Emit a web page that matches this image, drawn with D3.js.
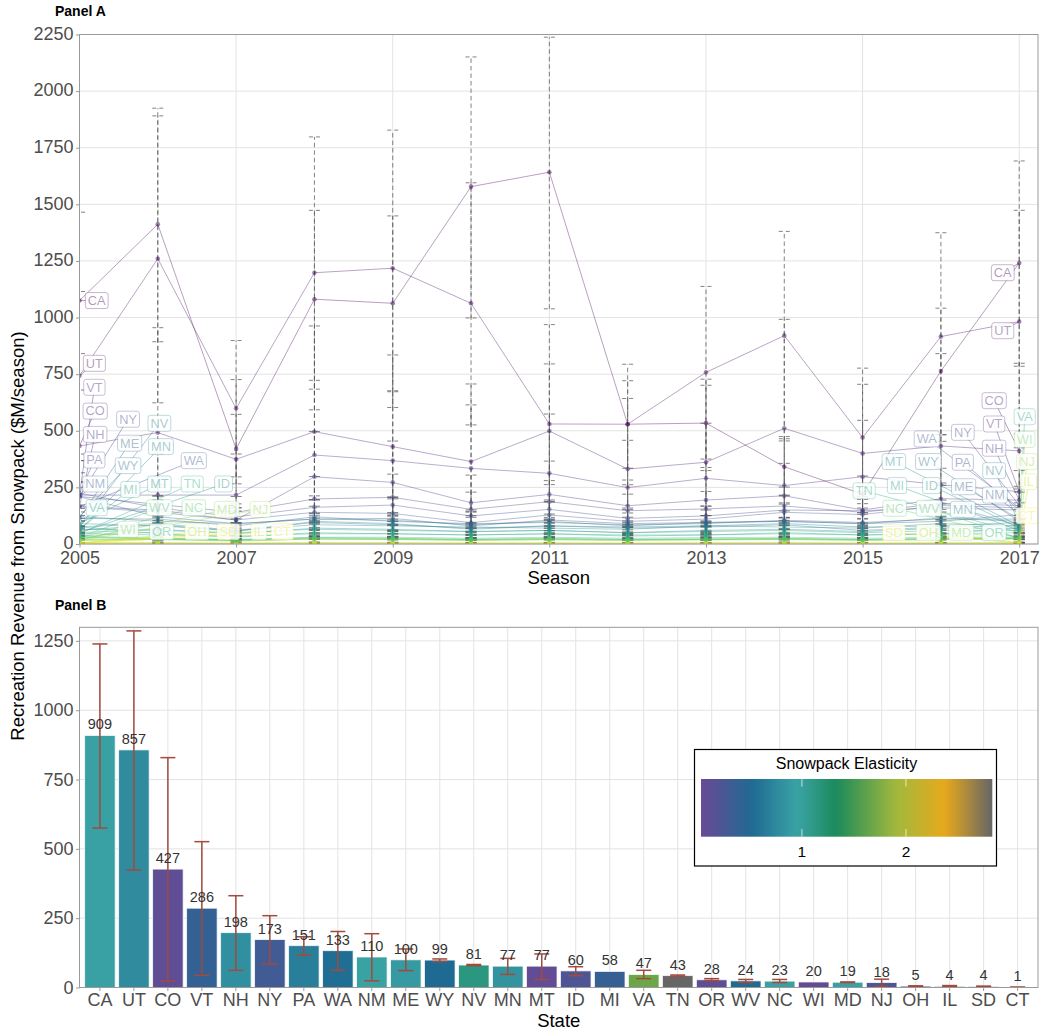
<!DOCTYPE html>
<html><head><meta charset="utf-8">
<script src="https://cdn.jsdelivr.net/npm/d3@7"></script>
<style>
body{margin:0;background:#fff}
svg{display:block}
text{font-family:"Liberation Sans",Arial,Helvetica,sans-serif}
</style>
</head><body>
<svg id="c" width="1040" height="1032"></svg>
<script>
// ---------------- DATA ----------------
const seasons = [2005,2006,2007,2008,2009,2010,2011,2012,2013,2014,2015,2016,2017];
const states = ["CA","UT","CO","VT","NH","NY","PA","WA","NM","ME","WY","NV","MN","MT","ID","MI","VA","TN","OR","WV","NC","WI","MD","NJ","OH","IL","SD","CT"];

// Panel A: revenue per season ($M), one array per state
const rev_CA = [1075,1412,420,1081,1063,1578,1642,529,534,341,220,764,1241];
const rev_UT = [743,1260,599,1198,1218,1063,530,529,758,920,470,916,982];
const rev_CO = [433,492,374,496,430,364,499,331,361,511,400,433,411];
const rev_VT = [216,216,216,393,368,334,312,249,290,258,297,262,231];
const rev_NH = [165,150,106,297,272,182,219,169,194,213,150,200,194];
const rev_NY = [210,175,140,199,206,153,187,147,155,168,140,180,170];
const rev_PA = [224,160,120,162,172,124,153,113,124,150,147,160,150];
const rev_WA = [165,140,106,140,135,94,128,100,110,140,130,170,160];
const rev_NM = [209,120,90,110,113,80,106,90,95,100,90,100,130];
const rev_ME = [113,110,80,120,100,90,95,85,90,105,95,110,110];
const rev_WY = [121,100,90,110,105,85,100,80,95,100,90,115,100];
const rev_NV = [76,90,60,95,85,70,80,75,80,90,75,80,95];
const rev_MN = [60,85,55,100,90,65,80,70,75,85,60,75,80];
const rev_MT = [90,80,60,85,80,75,70,65,80,75,70,90,80];
const rev_ID = [50,65,45,70,65,55,60,50,60,65,55,70,70];
const rev_MI = [65,60,50,65,60,55,60,50,55,60,50,60,60];
const rev_VA = [76,45,30,50,45,40,45,35,40,50,40,45,70];
const rev_TN = [47,40,35,45,45,40,45,40,40,45,40,45,50];
const rev_OR = [35,25,20,30,30,25,30,25,28,30,25,30,30];
const rev_WV = [30,25,18,28,25,20,25,20,22,25,20,25,25];
const rev_NC = [28,22,18,26,25,20,24,20,22,24,20,24,26];
const rev_WI = [20,22,15,22,20,18,20,18,20,22,18,20,25];
const rev_MD = [18,20,15,22,20,18,20,17,19,20,17,20,21];
const rev_NJ = [15,20,12,22,20,15,18,15,18,20,15,20,24];
const rev_OH = [5,6,3,6,6,4,5,4,5,6,4,5,6];
const rev_IL = [4,5,3,5,4,3,4,3,4,5,3,4,5];
const rev_SD = [4,4,3,5,4,4,4,3,4,5,3,4,5];
const rev_CT = [1,1,1,1,1,1,1,1,1,1,1,1,1];
const revenueSeries = [rev_CA,rev_UT,rev_CO,rev_VT,rev_NH,rev_NY,rev_PA,rev_WA,rev_NM,rev_ME,rev_WY,rev_NV,rev_MN,rev_MT,rev_ID,rev_MI,rev_VA,rev_TN,rev_OR,rev_WV,rev_NC,rev_WI,rev_MD,rev_NJ,rev_OH,rev_IL,rev_SD,rev_CT];

// Panel B: mean revenue, interval bounds, snowpack elasticity
const meanRevenue = [909,857,427,286,198,173,151,133,110,100,99,81,77,77,60,58,47,43,28,24,23,20,19,18,5,4,4,1];
const ciLow  = [575,424,23,44,62,85,116,62,24,61,93,79,47,29,43,null,32,41,25,18,18,null,18,4,4,3,3,1];
const ciHigh = [1239,1286,829,526,331,259,183,202,194,139,103,83,105,121,75,null,62,45,32,29,29,null,20,30,6,7,5,1];
const elasticity = [0.93,0.77,0.1,0.38,0.81,0.3,0.68,0.55,0.96,0.88,0.52,1.14,0.84,0.08,0.21,0.37,1.68,2.83,0.1,0.5,0.93,0.07,0.93,0.21,0.25,0.45,0.9,0.6];

// Ticks
const yTicksA = [0,250,500,750,1000,1250,1500,1750,2000,2250];
const xTicksA = [2005,2007,2009,2011,2013,2015,2017];
const yTicksB = [0,250,500,750,1000,1250];
const legendTicks = [1,2];
const elasticityStops = [0.03,0.52,0.95,1.33,1.91,2.37,2.83];
const elasticityColors = ["#6a4995","#1f6a93","#3aa3a5","#1c8a5c","#a2b93c","#e7a91c","#666666"];

// Label layout (ggrepel placement, in data coordinates [season, value])
const leftLabelLayout = {CA:[2005.22,1075],UT:[2005.19,798],VT:[2005.19,692],CO:[2005.2,587],NY:[2005.62,551],NH:[2005.2,484],NV:[2006.02,533],ME:[2005.64,445],MN:[2006.04,430],PA:[2005.19,371],WY:[2005.62,346],WA:[2006.46,368],NM:[2005.2,265],MI:[2005.65,241],MT:[2006.02,265],TN:[2006.44,265],ID:[2006.84,265],VA:[2005.22,160],WV:[2006.02,160],NC:[2006.46,160],MD:[2006.88,153],NJ:[2007.31,153],WI:[2005.62,65],OR:[2006.05,54],OH:[2006.5,54],SD:[2006.9,54],IL:[2007.29,54],CT:[2007.59,54]};
const rightLabelLayout = {CA:[2016.79,1198],UT:[2016.79,942],CO:[2016.68,633],VT:[2016.68,530],VA:[2017.07,562],WA:[2015.82,464],NY:[2016.28,493],NH:[2016.68,423],WI:[2017.07,462],MT:[2015.4,364],WY:[2015.84,364],PA:[2016.28,361],NV:[2016.68,324],NJ:[2017.1,364],TN:[2015.02,235],MI:[2015.44,258],ID:[2015.88,258],ME:[2016.29,253],NM:[2016.69,216],IL:[2017.12,275],NC:[2015.41,158],WV:[2015.85,158],MN:[2016.28,153],CT:[2017.1,125],SD:[2015.4,50],OH:[2015.84,50],MD:[2016.26,50],OR:[2016.68,50]};

// ---------------- DRAW ----------------
const svg = d3.select("#c");
const FONT = '"Liberation Sans",Arial,Helvetica,sans-serif';
const gridCol = "#e3e3e3", borderCol = "#9a9a9a", tickTxt = "#4d4d4d";
const stateColor = d3.scaleOrdinal().domain(states).range(states.map((s,i)=>d3.interpolateViridis(i/(states.length-1))));

// ---- Panel A ----
const A = {l:79.5, r:1038, t:34.5, b:544};
const xA = d3.scaleLinear().domain([2005, 2017.24]).range([A.l, A.r]);
const yA = d3.scaleLinear().domain([0, 2250]).range([A.b, A.t]);

svg.append("text").attr("x",55).attr("y",16).attr("font-size",14).attr("font-weight","bold").text("Panel A");

const gA = svg.append("g");
gA.selectAll(".gy").data(yTicksA).join("line").attr("x1",A.l).attr("x2",A.r)
  .attr("y1",d=>yA(d)).attr("y2",d=>yA(d)).attr("stroke",gridCol).attr("stroke-width",1);
gA.selectAll(".gx").data(xTicksA).join("line").attr("y1",A.t).attr("y2",A.b)
  .attr("x1",d=>xA(d)).attr("x2",d=>xA(d)).attr("stroke",gridCol).attr("stroke-width",1);

svg.append("clipPath").attr("id","clipA").append("rect").attr("x",A.l).attr("y",A.t).attr("width",A.r-A.l).attr("height",A.b-A.t);
const pA = svg.append("g").attr("clip-path","url(#clipA)");

// error bars (each season's estimate scaled by the state's relative interval)
const ebG = pA.append("g");
states.forEach((s,i)=>{
  if (ciLow[i]==null) return;
  const rl = ciLow[i]/meanRevenue[i], rh = ciHigh[i]/meanRevenue[i];
  revenueSeries[i].forEach((v,j)=>{
    const x = xA(seasons[j]), y1 = yA(v*rl), y2 = yA(v*rh);
    ebG.append("line").attr("x1",x).attr("x2",x).attr("y1",y1).attr("y2",y2)
      .attr("stroke","#555").attr("stroke-width",0.9).attr("stroke-dasharray","4.5,3").attr("opacity",0.8);
    [y1,y2].forEach(yy=>ebG.append("line").attr("x1",x-5.5).attr("x2",x+5.5).attr("y1",yy).attr("y2",yy)
      .attr("stroke","#555").attr("stroke-width",0.9).attr("stroke-dasharray","4,3").attr("opacity",0.8));
  });
});

// lines
const line = d3.line().x((d,j)=>xA(seasons[j])).y(d=>yA(d));
const order = states.map((s,i)=>i).reverse();
order.forEach(i=>{
  pA.append("path").attr("d",line(revenueSeries[i])).attr("fill","none")
    .attr("stroke",stateColor(states[i])).attr("stroke-width",0.9).attr("stroke-opacity",0.42);
});
order.forEach(i=>{
  pA.selectAll(null).data(revenueSeries[i]).join("circle")
    .attr("cx",(d,j)=>xA(seasons[j])).attr("cy",d=>yA(d)).attr("r",2.3)
    .attr("fill",stateColor(states[i])).attr("fill-opacity",0.5);
});

// labels
function drawLabels(layout, idx){
  const g = pA.append("g");
  states.forEach((s,i)=>{
    const pos = layout[s]; if(!pos) return;
    const col = stateColor(s);
    const px = xA(seasons[idx]), py = yA(revenueSeries[i][idx]);
    const lx = xA(pos[0]), ly = yA(pos[1]);
    g.append("line").attr("x1",px).attr("y1",py).attr("x2",lx).attr("y2",ly)
      .attr("stroke",col).attr("stroke-opacity",0.45).attr("stroke-width",0.9);
  });
  states.forEach((s,i)=>{
    const pos = layout[s]; if(!pos) return;
    const col = stateColor(s);
    const lx = xA(pos[0]), ly = yA(pos[1]);
    const lg = g.append("g");
    const r = lg.append("rect");
    const t = lg.append("text").attr("x",lx).attr("y",ly+4.4).attr("text-anchor","middle")
      .attr("font-size",12.8).attr("fill",col).attr("fill-opacity",0.42).text(s);
    const w = t.node().getComputedTextLength()+5;
    r.attr("x",lx-w/2).attr("y",ly-8).attr("width",w).attr("height",16).attr("rx",2.5)
      .attr("fill","#fff").attr("fill-opacity",0.88).attr("stroke",col).attr("stroke-opacity",0.33).attr("stroke-width",0.9);
  });
}
drawLabels(leftLabelLayout, 0);
drawLabels(rightLabelLayout, seasons.length-1);

// border + axes
svg.append("rect").attr("x",A.l).attr("y",A.t).attr("width",A.r-A.l).attr("height",A.b-A.t)
  .attr("fill","none").attr("stroke",borderCol).attr("stroke-width",1);
function styleAxis(g){
  g.select(".domain").remove();
  g.selectAll(".tick line").attr("stroke",borderCol);
  g.selectAll(".tick text").attr("fill",tickTxt).attr("font-size",18).attr("font-family",FONT);
}
svg.append("g").attr("transform",`translate(${A.l},0)`)
  .call(d3.axisLeft(yA).tickValues(yTicksA).tickSize(3.5).tickPadding(2.5).tickFormat(d3.format("d"))).call(styleAxis)
  .selectAll(".tick text").attr("dy","0.26em");
svg.append("g").attr("transform",`translate(0,${A.b})`)
  .call(d3.axisBottom(xA).tickValues(xTicksA).tickSize(3.5).tickPadding(3.5).tickFormat(d3.format("d"))).call(styleAxis);
svg.append("text").attr("x",(A.l+A.r)/2).attr("y",584).attr("text-anchor","middle").attr("font-size",18.5).text("Season");

// ---- Panel B ----
const B = {l:79.5, r:1038, t:627.3, b:987.5};
svg.append("text").attr("x",55).attr("y",609.5).attr("font-size",14).attr("font-weight","bold").text("Panel B");
const xB = d3.scaleBand().domain(states).range([B.l,B.r]).paddingInner(0.1).paddingOuter(0.15);
const yB = d3.scaleLinear().domain([0,1299]).range([B.b,B.t]);
const elasticityColor = d3.scaleLinear().domain(elasticityStops).range(elasticityColors).interpolate(d3.interpolateRgb).clamp(true);

const gB = svg.append("g");
gB.selectAll(".gby").data(yTicksB).join("line").attr("x1",B.l).attr("x2",B.r)
  .attr("y1",d=>yB(d)).attr("y2",d=>yB(d)).attr("stroke",gridCol);
gB.selectAll(".gbx").data(states).join("line").attr("y1",B.t).attr("y2",B.b)
  .attr("x1",d=>xB(d)+xB.bandwidth()/2).attr("x2",d=>xB(d)+xB.bandwidth()/2).attr("stroke",gridCol);

gB.selectAll(".bar").data(states).join("rect")
  .attr("x",d=>xB(d)).attr("width",xB.bandwidth())
  .attr("y",(d,i)=>yB(meanRevenue[i])).attr("height",(d,i)=>B.b-yB(meanRevenue[i]))
  .attr("fill",(d,i)=>elasticityColor(elasticity[i]))
  .attr("stroke","#ffffff").attr("stroke-opacity",0.75).attr("stroke-width",1);

const errCol = "#a24a3c";
states.forEach((s,i)=>{
  if (ciLow[i]==null) return;
  const cx = xB(s)+xB.bandwidth()/2, y1 = yB(ciLow[i]), y2 = yB(ciHigh[i]);
  gB.append("line").attr("x1",cx).attr("x2",cx).attr("y1",y1).attr("y2",y2).attr("stroke",errCol).attr("stroke-width",1.5);
  [y1,y2].forEach(yy=>gB.append("line").attr("x1",cx-7.5).attr("x2",cx+7.5).attr("y1",yy).attr("y2",yy).attr("stroke",errCol).attr("stroke-width",1.5));
});
gB.selectAll(".val").data(states).join("text")
  .attr("x",d=>xB(d)+xB.bandwidth()/2).attr("y",(d,i)=>yB(meanRevenue[i])-6)
  .attr("text-anchor","middle").attr("font-size",14.5).attr("fill","#333").text((d,i)=>meanRevenue[i]);

svg.append("rect").attr("x",B.l).attr("y",B.t).attr("width",B.r-B.l).attr("height",B.b-B.t)
  .attr("fill","none").attr("stroke",borderCol).attr("stroke-width",1);
svg.append("g").attr("transform",`translate(${B.l},0)`)
  .call(d3.axisLeft(yB).tickValues(yTicksB).tickSize(3.5).tickPadding(2.5).tickFormat(d3.format("d"))).call(styleAxis);
svg.append("g").attr("transform",`translate(0,${B.b})`)
  .call(d3.axisBottom(xB).tickSize(3.5).tickPadding(2)).call(styleAxis);
svg.append("text").attr("x",(B.l+B.r)/2).attr("y",1027).attr("text-anchor","middle").attr("font-size",18.5).text("State");

// shared y title
svg.append("text").attr("transform","translate(24,536) rotate(-90)").attr("text-anchor","middle")
  .attr("font-size",18.5).text("Recreation Revenue from Snowpack ($M/season)");

// ---- Legend ----
const L = {x:694.5, y:749.5, w:302, h:116.5};
const lg = svg.append("g");
lg.append("rect").attr("x",L.x).attr("y",L.y).attr("width",L.w).attr("height",L.h).attr("fill","#fff").attr("stroke","#000").attr("stroke-width",1.2);
lg.append("text").attr("x",846.5).attr("y",769.3).attr("text-anchor","middle").attr("font-size",16).text("Snowpack Elasticity");
const lx = d3.scaleLinear().domain([elasticityStops[0], elasticityStops[elasticityStops.length-1]]).range([701,992.3]);
const grad = svg.append("defs").append("linearGradient").attr("id","eg").attr("x1","0%").attr("x2","100%");
d3.range(0,1.0001,0.02).forEach(t=>{
  const v = lx.domain()[0]+t*(lx.domain()[1]-lx.domain()[0]);
  grad.append("stop").attr("offset",(t*100)+"%").attr("stop-color",elasticityColor(v));
});
lg.append("rect").attr("x",701).attr("y",779).attr("width",291.3).attr("height",57.7).attr("fill","url(#eg)");
legendTicks.forEach(v=>{
  const x = lx(v);
  lg.append("line").attr("x1",x).attr("x2",x).attr("y1",779).attr("y2",786.5).attr("stroke","#fff").attr("stroke-opacity",0.7).attr("stroke-width",1);
  lg.append("line").attr("x1",x).attr("x2",x).attr("y1",829).attr("y2",836.7).attr("stroke","#fff").attr("stroke-opacity",0.7).attr("stroke-width",1);
  lg.append("text").attr("x",x).attr("y",857.3).attr("text-anchor","middle").attr("font-size",15.5).text(v);
});
</script>
</body></html>
